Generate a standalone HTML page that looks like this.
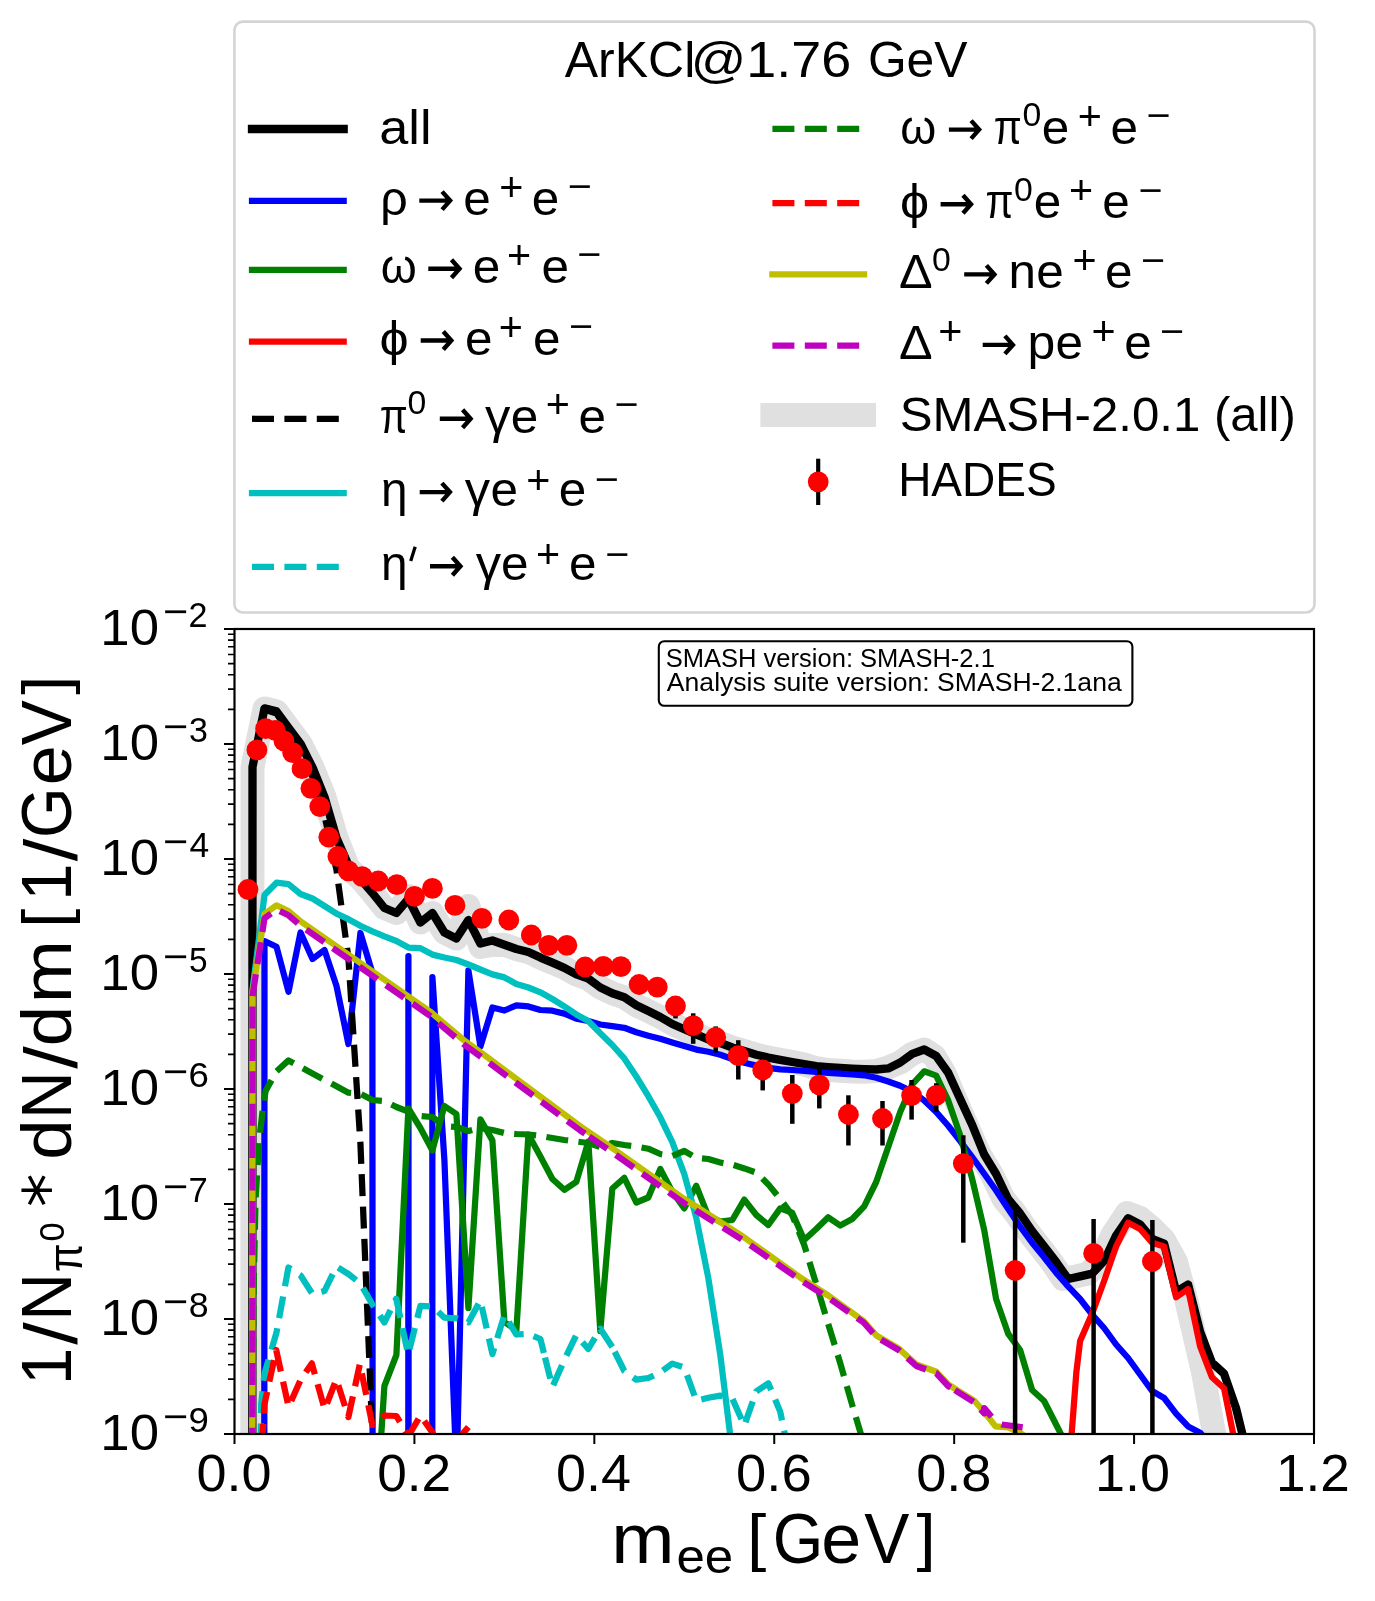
<!DOCTYPE html>
<html><head><meta charset="utf-8"><title>ArKCl@1.76 GeV dilepton spectrum</title>
<style>html,body{margin:0;padding:0;background:#fff}svg{display:block;will-change:transform}text{font-family:"Liberation Sans",sans-serif;font-kerning:none;font-variant-ligatures:none;white-space:pre}</style></head>
<body>
<svg width="1375" height="1601" viewBox="0 0 1375 1601">
<rect width="1375" height="1601" fill="#fff"/>
<defs><clipPath id="ax"><rect x="234.5" y="629.0" width="1079.5" height="805.0"/></clipPath></defs>
<g clip-path="url(#ax)">
<path d="M252.3,1470.0 L252.5,767.0 L264.5,708.4 L276.5,711.4 L288.5,727.7 L300.5,743.7 L312.5,767.4 L324.5,797.0 L336.5,838.0 L348.4,868.0 L360.4,879.0 L372.4,893.0 L384.4,908.0 L396.4,913.0 L408.4,896.0 L420.4,922.5 L432.4,913.0 L444.4,932.5 L456.4,938.5 L468.4,906.0 L480.4,947.0 L492.4,945.0 L504.4,944.7 L516.4,949.0 L528.4,952.0 L540.4,957.6 L552.4,962.7 L564.3,967.8 L576.3,974.4 L588.3,978.7 L600.3,987.5 L612.3,993.3 L624.3,997.3 L636.3,1005.3 L648.3,1011.0 L660.3,1017.0 L672.3,1024.0 L684.3,1029.3 L696.3,1034.4 L708.3,1039.5 L720.3,1043.0 L732.3,1047.5 L744.3,1051.0 L756.3,1054.7 L768.3,1057.6 L780.2,1059.8 L792.2,1062.0 L804.2,1064.6 L816.2,1068.2 L828.2,1070.0 L840.2,1070.8 L852.2,1071.5 L864.2,1071.7 L876.2,1071.0 L888.2,1067.4 L900.2,1062.5 L912.2,1053.8 L924.2,1049.5 L934.2,1056.0 L944.2,1072.7 L955.2,1098.9 L966.7,1125.0 L979.7,1154.5 L991.6,1174.0 L1003.6,1199.0 L1015.6,1213.5 L1027.6,1231.0 L1039.6,1246.4 L1051.6,1261.8 L1063.1,1279.0 L1076.1,1276.4 L1088.1,1273.6 L1100.1,1261.0 L1112.1,1235.5 L1127.0,1213.0 L1140.0,1218.0 L1152.0,1228.0 L1164.0,1240.0 L1176.0,1262.0 L1186.0,1299.0 L1203.0,1372.0 L1214.5,1436.0 L1218.0,1470.0" fill="none" stroke="#e0e0e0" stroke-width="24" stroke-linejoin="round" stroke-linecap="butt"/>
<path d="M252.3,1470.0 L252.5,767.0 L264.5,708.4 L276.5,711.4 L288.5,727.7 L300.5,743.7 L312.5,767.4 L324.5,797.0 L336.5,838.0 L348.4,865.0 L360.4,879.0 L372.4,893.0 L384.4,908.0 L396.4,913.0 L408.4,899.0 L420.4,922.5 L432.4,913.0 L444.4,932.5 L456.4,938.5 L468.4,920.0 L480.4,943.5 L492.4,940.5 L504.4,944.7 L516.4,949.0 L528.4,952.0 L540.4,957.6 L552.4,962.7 L564.3,967.8 L576.3,974.4 L588.3,978.7 L600.3,987.5 L612.3,993.3 L624.3,997.3 L636.3,1005.3 L648.3,1011.0 L660.3,1017.0 L672.3,1024.0 L684.3,1029.3 L696.3,1034.4 L708.3,1039.5 L720.3,1043.0 L732.3,1047.5 L744.3,1051.0 L756.3,1054.7 L768.3,1057.6 L780.2,1059.8 L792.2,1062.0 L804.2,1064.0 L816.2,1066.2 L828.2,1067.2 L840.2,1068.0 L852.2,1068.7 L864.2,1069.2 L876.2,1069.5 L888.2,1068.4 L900.2,1062.5 L912.2,1053.8 L924.2,1049.5 L936.2,1056.0 L948.2,1072.7 L960.2,1098.9 L972.2,1125.0 L984.2,1154.5 L996.1,1174.0 L1008.1,1199.0 L1020.1,1213.5 L1032.1,1231.0 L1044.1,1246.4 L1056.1,1261.8 L1068.1,1279.0 L1080.1,1276.4 L1092.1,1273.6 L1104.1,1261.0 L1116.1,1235.5 L1128.1,1218.2 L1140.1,1224.5 L1152.1,1239.0 L1164.1,1243.6 L1176.1,1291.8 L1188.1,1284.5 L1200.1,1331.8 L1212.0,1362.7 L1224.0,1373.6 L1236.0,1408.0 L1248.0,1457.0" fill="none" stroke="#000" stroke-width="8.33" stroke-linejoin="round" stroke-linecap="butt"/>
<path d="M264.3,1470.0 L264.5,941.0 L276.5,946.7 L288.5,991.8 L300.5,932.5 L312.5,959.0 L324.5,950.0 L336.5,986.0 L348.4,1044.0 L360.4,933.0 L372.4,973.0 L372.6,1470.0" fill="none" stroke="#0000ff" stroke-width="6.25" stroke-linejoin="round" stroke-linecap="butt"/>
<path d="M408.3,1470.0 L408.4,956.0 L408.6,1470.0" fill="none" stroke="#0000ff" stroke-width="6.25" stroke-linejoin="round" stroke-linecap="butt"/>
<path d="M432.3,1470.0 L432.4,977.0 L444.4,1160.0 L456.6,1474.0 L468.4,970.5 L480.4,1046.5 L492.4,1007.5 L504.4,1010.5 L516.4,1005.3 L528.4,1006.4 L540.4,1010.0 L552.4,1010.7 L564.3,1013.6 L576.3,1018.7 L588.3,1021.0 L600.3,1024.5 L612.3,1026.2 L624.3,1027.8 L636.3,1032.2 L648.3,1035.8 L660.3,1038.7 L672.3,1042.4 L684.3,1046.0 L696.3,1049.6 L708.3,1051.8 L720.3,1054.7 L732.3,1059.0 L744.3,1062.7 L756.3,1065.6 L768.3,1067.8 L780.2,1069.3 L792.2,1070.0 L804.2,1070.8 L816.2,1072.0 L828.2,1073.0 L840.2,1073.7 L852.2,1074.5 L864.2,1075.3 L876.2,1077.8 L888.2,1081.5 L900.2,1085.8 L912.2,1091.6 L924.2,1100.4 L936.2,1112.0 L948.2,1125.8 L960.2,1141.0 L972.2,1157.0 L984.2,1173.8 L996.1,1190.5 L1008.1,1208.8 L1020.1,1226.4 L1032.1,1242.7 L1044.1,1257.3 L1056.1,1272.7 L1068.1,1286.4 L1080.1,1299.0 L1092.1,1314.5 L1104.1,1328.0 L1116.1,1344.5 L1128.1,1358.0 L1140.1,1374.5 L1152.1,1391.0 L1164.1,1398.0 L1176.1,1413.6 L1188.1,1426.4 L1200.1,1432.7 L1212.0,1446.0" fill="none" stroke="#0000ff" stroke-width="6.25" stroke-linejoin="round" stroke-linecap="butt"/>
<path d="M372.4,1572.0 L384.4,1386.0 L396.4,1355.0 L408.4,1108.5 L420.4,1128.0 L432.4,1150.5 L444.4,1106.0 L456.4,1114.0 L468.4,1308.0 L480.4,1119.3 L492.4,1140.4 L504.4,1322.0 L516.4,1330.0 L528.4,1134.5 L540.4,1156.4 L552.4,1179.0 L564.3,1189.8 L576.3,1181.8 L588.3,1141.8 L600.3,1331.0 L612.3,1188.5 L624.3,1177.8 L636.3,1202.5 L648.3,1197.5 L660.3,1169.0 L672.3,1191.6 L684.3,1208.4 L696.3,1185.8 L708.3,1216.4 L720.3,1221.5 L732.3,1220.0 L744.3,1199.6 L756.3,1215.0 L768.3,1225.0 L780.2,1208.4 L792.2,1212.7 L804.2,1240.0 L816.2,1229.0 L828.2,1217.3 L840.2,1225.5 L852.2,1219.0 L864.2,1206.4 L876.2,1182.0 L888.2,1147.0 L900.2,1112.0 L912.2,1084.4 L924.2,1071.3 L936.2,1075.6 L948.2,1100.4 L960.2,1135.3 L972.2,1179.0 L984.2,1230.0 L996.1,1299.0 L1008.1,1333.6 L1020.1,1350.0 L1032.1,1390.0 L1044.1,1401.0 L1056.1,1424.5 L1068.1,1448.0" fill="none" stroke="#008000" stroke-width="6.25" stroke-linejoin="round" stroke-linecap="butt"/>
<path d="M1070.5,1462.0 L1071.8,1432.0 L1076.4,1371.8 L1080.1,1341.0 L1092.1,1313.6 L1104.1,1281.0 L1116.1,1246.4 L1128.1,1222.7 L1140.1,1229.0 L1152.1,1242.7 L1164.1,1246.4 L1176.1,1297.3 L1188.1,1289.0 L1200.1,1346.4 L1212.0,1377.3 L1224.0,1388.2 L1236.0,1448.0" fill="none" stroke="#ff0000" stroke-width="6.25" stroke-linejoin="round" stroke-linecap="butt"/>
<path d="M252.3,1470.0 L252.5,768.0 L264.5,709.5 L276.5,713.5 L288.5,731.5 L300.5,750.0 L312.5,777.0 L324.5,816.0 L336.5,870.0 L348.4,958.0 L360.4,1143.0 L372.4,1436.0 L384.4,1600.0" fill="none" stroke="#000" stroke-width="6.25" stroke-linejoin="round" stroke-linecap="butt" stroke-dasharray="22 10.4" stroke-dashoffset="14.52"/>
<path d="M252.3,1470.0 L252.5,989.6 L264.5,895.0 L276.5,882.7 L288.5,884.2 L300.5,894.0 L312.5,898.5 L324.5,906.0 L336.5,913.7 L348.4,919.2 L360.4,925.8 L372.4,931.3 L384.4,936.4 L396.4,941.0 L408.4,947.6 L420.4,948.2 L432.4,954.6 L444.4,957.5 L456.4,960.0 L468.4,964.5 L480.4,969.5 L492.4,974.4 L504.4,977.4 L516.4,984.0 L528.4,987.5 L540.4,992.3 L552.4,999.0 L564.3,1006.4 L576.3,1014.4 L588.3,1021.0 L600.3,1033.3 L612.3,1045.0 L624.3,1058.4 L636.3,1076.5 L648.3,1096.2 L660.3,1117.3 L672.3,1142.2 L684.3,1174.2 L696.3,1218.0 L708.3,1278.0 L720.3,1355.0 L732.3,1452.0" fill="none" stroke="#00bfbf" stroke-width="6.25" stroke-linejoin="round" stroke-linecap="butt"/>
<path d="M260.6,1450.0 L261.2,1404.0 L264.5,1373.5 L276.5,1332.5 L288.4,1267.5 L300.5,1275.3 L312.5,1294.0 L324.5,1291.0 L336.4,1266.6 L348.4,1274.0 L360.4,1283.5 L372.4,1304.5 L384.4,1322.4 L396.2,1298.7 L408.2,1354.5 L420.4,1305.8 L432.4,1306.4 L444.4,1317.7 L456.4,1318.3 L468.4,1322.4 L480.4,1300.5 L492.4,1354.0 L504.4,1315.0 L516.4,1334.5 L528.4,1333.8 L540.4,1339.0 L543.9,1353.0" fill="none" stroke="#00bfbf" stroke-width="6.25" stroke-linejoin="round" stroke-linecap="butt" stroke-dasharray="22 10.4" stroke-dashoffset="27.94"/>
<path d="M543.9,1353.0 L552.4,1387.0 L564.3,1360.0 L576.3,1335.0 L588.3,1349.0 L600.3,1328.7 L612.3,1347.0" fill="none" stroke="#00bfbf" stroke-width="6.25" stroke-linejoin="round" stroke-linecap="butt" stroke-dasharray="22 10.4" stroke-dashoffset="27.86"/>
<path d="M612.3,1347.0 L624.3,1371.0 L636.3,1379.6 L648.3,1378.0 L660.3,1372.4 L672.3,1363.6 L684.3,1367.5 L696.3,1400.7 L708.3,1397.8 L720.3,1395.6 L732.3,1398.5 L744.3,1425.5 L756.3,1391.3 L768.3,1383.3 L780.2,1411.6 L792.2,1470.0" fill="none" stroke="#00bfbf" stroke-width="6.25" stroke-linejoin="round" stroke-linecap="butt" stroke-dasharray="22 10.4" stroke-dashoffset="27.09"/>
<path d="M252.6,1470.0 L253.4,1300.0 L255.5,1200.0 L259.0,1142.0 L262.7,1110.0 L265.6,1091.0 L276.5,1071.3 L288.5,1060.4 L300.5,1067.0 L312.5,1073.4 L324.5,1079.9 L336.5,1086.3 L348.4,1092.7 L360.4,1093.8 L372.4,1100.0 L384.4,1101.0 L396.4,1107.0 L408.4,1111.6 L420.4,1116.0 L432.4,1117.0 L444.4,1126.0 L456.4,1127.0 L468.4,1131.0 L480.4,1128.0 L492.4,1130.0 L504.4,1133.0 L516.4,1134.0 L528.4,1134.5 L540.4,1136.0 L552.4,1138.0 L564.3,1140.0 L576.3,1141.5 L588.3,1143.0 L600.3,1147.0 L612.3,1143.0 L624.3,1145.0 L636.3,1146.5 L648.3,1148.7 L660.3,1154.0 L672.3,1156.0 L684.3,1151.0 L696.3,1158.0 L708.3,1159.0 L720.3,1162.5 L732.3,1164.7 L744.3,1168.4 L756.3,1172.7 L768.3,1184.4 L780.2,1199.0 L792.2,1215.0 L804.2,1245.0 L816.2,1284.0 L828.2,1324.0 L840.2,1363.0 L852.2,1405.0 L864.2,1445.0" fill="none" stroke="#008000" stroke-width="6.25" stroke-linejoin="round" stroke-linecap="butt" stroke-dasharray="22 10.4" stroke-dashoffset="18.96"/>
<path d="M262.3,1440.0 L264.5,1404.0 L276.2,1350.0 L288.6,1407.0 L300.5,1380.0 L311.8,1363.4 L324.7,1409.5 L336.4,1379.3 L348.4,1417.0 L359.9,1364.0 L372.4,1425.0 L384.4,1415.5 L396.4,1416.0 L408.4,1436.0" fill="none" stroke="#ff0000" stroke-width="6.25" stroke-linejoin="round" stroke-linecap="butt" stroke-dasharray="22 10.4" stroke-dashoffset="5.90"/>
<path d="M408.4,1436.0 L420.4,1415.6 L432.4,1432.5 L444.4,1462.0" fill="none" stroke="#ff0000" stroke-width="6.25" stroke-linejoin="round" stroke-linecap="butt" stroke-dasharray="22 10.4" stroke-dashoffset="2.03"/>
<path d="M456.4,1441.0 L468.4,1427.0" fill="none" stroke="#ff0000" stroke-width="6.25" stroke-linejoin="round" stroke-linecap="butt"/>
<path d="M252.3,1470.0 L252.5,992.5 L264.5,914.0 L276.5,905.3 L288.5,911.0 L300.5,921.3 L430.0,1011.5 L463.6,1040.0 L480.0,1051.8 L580.0,1126.0 L610.0,1146.5 L684.3,1199.0 L744.3,1237.5 L800.0,1277.3 L828.2,1295.5 L863.6,1321.0 L876.4,1335.5 L898.2,1348.2 L916.4,1364.5 L936.4,1371.8 L948.2,1384.5 L960.0,1391.8 L974.5,1401.0 L984.2,1411.8 L995.5,1426.4 L1008.2,1427.3 L1020.0,1432.7 L1030.0,1440.0" fill="none" stroke="#bfbf00" stroke-width="6.25" stroke-linejoin="round" stroke-linecap="butt"/>
<path d="M252.3,1470.0 L252.5,996.0 L264.5,918.3 L276.5,909.6 L288.5,915.3 L300.5,925.6 L430.0,1015.8 L463.6,1044.3 L480.0,1056.1 L580.0,1130.3 L585.0,1133.7" fill="none" stroke="#bf00bf" stroke-width="6.25" stroke-linejoin="round" stroke-linecap="butt" stroke-dasharray="22 10.4" stroke-dashoffset="12.09"/>
<path d="M585.0,1133.7 L610.0,1150.8 L684.3,1203.3 L744.3,1241.0 L800.0,1279.8 L828.2,1297.6 L863.6,1322.5 L876.4,1337.0 L898.2,1349.7 L916.4,1366.0 L936.4,1373.3 L948.2,1386.0 L950.7,1387.5" fill="none" stroke="#bf00bf" stroke-width="6.25" stroke-linejoin="round" stroke-linecap="butt" stroke-dasharray="22 10.4" stroke-dashoffset="27.40"/>
<path d="M950.7,1387.5 L960.0,1393.3 L974.5,1402.5 L984.2,1413.3 L984.2,1408.0 L995.5,1421.5 L998.0,1422.7" fill="none" stroke="#bf00bf" stroke-width="6.25" stroke-linejoin="round" stroke-linecap="butt" stroke-dasharray="22 10.4" stroke-dashoffset="27.40"/>
<path d="M998.0,1422.7 L1001.8,1424.5 L1022.7,1427.3" fill="none" stroke="#bf00bf" stroke-width="6.25" stroke-linejoin="round" stroke-linecap="butt" stroke-dasharray="22 10.4" stroke-dashoffset="28.20"/>
<path d="M675.5,998.0V1018.4" stroke="#000" stroke-width="4.5" fill="none"/>
<path d="M693.2,1013.3V1043.8" stroke="#000" stroke-width="4.5" fill="none"/>
<path d="M715.7,1026.4V1052.5" stroke="#000" stroke-width="4.5" fill="none"/>
<path d="M738.3,1040.2V1079.5" stroke="#000" stroke-width="4.5" fill="none"/>
<path d="M762.7,1056.0V1090.4" stroke="#000" stroke-width="4.5" fill="none"/>
<path d="M792.3,1075.0V1123.8" stroke="#000" stroke-width="4.5" fill="none"/>
<path d="M819.3,1068.4V1108.4" stroke="#000" stroke-width="4.5" fill="none"/>
<path d="M848.4,1095.3V1145.5" stroke="#000" stroke-width="4.5" fill="none"/>
<path d="M882.5,1101.0V1145.5" stroke="#000" stroke-width="4.5" fill="none"/>
<path d="M911.6,1080.0V1119.6" stroke="#000" stroke-width="4.5" fill="none"/>
<path d="M936.3,1083.2V1111.7" stroke="#000" stroke-width="4.5" fill="none"/>
<path d="M963.3,1135.3V1242.7" stroke="#000" stroke-width="4.5" fill="none"/>
<path d="M1015.1,1211.0V1445.0" stroke="#000" stroke-width="4.5" fill="none"/>
<path d="M1093.6,1219.0V1445.0" stroke="#000" stroke-width="4.5" fill="none"/>
<path d="M1152.4,1220.0V1445.0" stroke="#000" stroke-width="4.5" fill="none"/>
<circle cx="248.0" cy="889.5" r="10.4" fill="#ff0000"/>
<circle cx="256.9" cy="749.9" r="10.4" fill="#ff0000"/>
<circle cx="265.6" cy="728.6" r="10.4" fill="#ff0000"/>
<circle cx="275.2" cy="730.4" r="10.4" fill="#ff0000"/>
<circle cx="283.9" cy="740.8" r="10.4" fill="#ff0000"/>
<circle cx="292.6" cy="752.6" r="10.4" fill="#ff0000"/>
<circle cx="302.0" cy="768.7" r="10.4" fill="#ff0000"/>
<circle cx="310.9" cy="788.3" r="10.4" fill="#ff0000"/>
<circle cx="319.8" cy="806.6" r="10.4" fill="#ff0000"/>
<circle cx="328.8" cy="837.2" r="10.4" fill="#ff0000"/>
<circle cx="337.9" cy="856.5" r="10.4" fill="#ff0000"/>
<circle cx="348.4" cy="870.9" r="10.4" fill="#ff0000"/>
<circle cx="362.2" cy="876.7" r="10.4" fill="#ff0000"/>
<circle cx="378.2" cy="881.0" r="10.4" fill="#ff0000"/>
<circle cx="396.8" cy="884.7" r="10.4" fill="#ff0000"/>
<circle cx="414.5" cy="896.4" r="10.4" fill="#ff0000"/>
<circle cx="432.4" cy="888.4" r="10.4" fill="#ff0000"/>
<circle cx="455.0" cy="905.4" r="10.4" fill="#ff0000"/>
<circle cx="481.9" cy="918.3" r="10.4" fill="#ff0000"/>
<circle cx="508.8" cy="920.0" r="10.4" fill="#ff0000"/>
<circle cx="531.3" cy="935.0" r="10.4" fill="#ff0000"/>
<circle cx="548.7" cy="945.3" r="10.4" fill="#ff0000"/>
<circle cx="566.9" cy="945.3" r="10.4" fill="#ff0000"/>
<circle cx="585.1" cy="967.0" r="10.4" fill="#ff0000"/>
<circle cx="603.3" cy="966.4" r="10.4" fill="#ff0000"/>
<circle cx="620.9" cy="966.7" r="10.4" fill="#ff0000"/>
<circle cx="639.1" cy="984.5" r="10.4" fill="#ff0000"/>
<circle cx="657.3" cy="987.1" r="10.4" fill="#ff0000"/>
<circle cx="675.5" cy="1006.0" r="10.4" fill="#ff0000"/>
<circle cx="693.2" cy="1025.6" r="10.4" fill="#ff0000"/>
<circle cx="715.7" cy="1037.3" r="10.4" fill="#ff0000"/>
<circle cx="738.3" cy="1055.7" r="10.4" fill="#ff0000"/>
<circle cx="762.7" cy="1070.0" r="10.4" fill="#ff0000"/>
<circle cx="792.3" cy="1093.6" r="10.4" fill="#ff0000"/>
<circle cx="819.3" cy="1084.8" r="10.4" fill="#ff0000"/>
<circle cx="848.4" cy="1114.5" r="10.4" fill="#ff0000"/>
<circle cx="882.5" cy="1118.5" r="10.4" fill="#ff0000"/>
<circle cx="911.6" cy="1095.6" r="10.4" fill="#ff0000"/>
<circle cx="936.3" cy="1095.3" r="10.4" fill="#ff0000"/>
<circle cx="963.3" cy="1163.6" r="10.4" fill="#ff0000"/>
<circle cx="1015.1" cy="1270.5" r="10.4" fill="#ff0000"/>
<circle cx="1093.6" cy="1253.3" r="10.4" fill="#ff0000"/>
<circle cx="1152.4" cy="1261.5" r="10.4" fill="#ff0000"/>
</g>
<path d="M234.50,1434.0v10M414.42,1434.0v10M594.33,1434.0v10M774.25,1434.0v10M954.17,1434.0v10M1134.08,1434.0v10M1314.00,1434.0v10M234.5,629.00h-10.5M234.5,744.00h-10.5M234.5,859.00h-10.5M234.5,974.00h-10.5M234.5,1089.00h-10.5M234.5,1204.00h-10.5M234.5,1319.00h-10.5M234.5,1434.00h-10.5" stroke="#000" stroke-width="2" fill="none"/>
<path d="M234.5,709.38h-6.5M234.5,689.13h-6.5M234.5,674.76h-6.5M234.5,663.62h-6.5M234.5,654.51h-6.5M234.5,646.81h-6.5M234.5,640.14h-6.5M234.5,634.26h-6.5M234.5,824.38h-6.5M234.5,804.13h-6.5M234.5,789.76h-6.5M234.5,778.62h-6.5M234.5,769.51h-6.5M234.5,761.81h-6.5M234.5,755.14h-6.5M234.5,749.26h-6.5M234.5,939.38h-6.5M234.5,919.13h-6.5M234.5,904.76h-6.5M234.5,893.62h-6.5M234.5,884.51h-6.5M234.5,876.81h-6.5M234.5,870.14h-6.5M234.5,864.26h-6.5M234.5,1054.38h-6.5M234.5,1034.13h-6.5M234.5,1019.76h-6.5M234.5,1008.62h-6.5M234.5,999.51h-6.5M234.5,991.81h-6.5M234.5,985.14h-6.5M234.5,979.26h-6.5M234.5,1169.38h-6.5M234.5,1149.13h-6.5M234.5,1134.76h-6.5M234.5,1123.62h-6.5M234.5,1114.51h-6.5M234.5,1106.81h-6.5M234.5,1100.14h-6.5M234.5,1094.26h-6.5M234.5,1284.38h-6.5M234.5,1264.13h-6.5M234.5,1249.76h-6.5M234.5,1238.62h-6.5M234.5,1229.51h-6.5M234.5,1221.81h-6.5M234.5,1215.14h-6.5M234.5,1209.26h-6.5M234.5,1399.38h-6.5M234.5,1379.13h-6.5M234.5,1364.76h-6.5M234.5,1353.62h-6.5M234.5,1344.51h-6.5M234.5,1336.81h-6.5M234.5,1330.14h-6.5M234.5,1324.26h-6.5" stroke="#000" stroke-width="1.6" fill="none"/>
<rect x="234.5" y="629.0" width="1079.5" height="805.0" fill="none" stroke="#000" stroke-width="2.2"/>
<text transform="translate(196.46,1491.30) scale(1.0584,1)" font-size="51.03" fill="#000">0.0</text>
<text transform="translate(377.23,1491.30) scale(1.0428,1)" font-size="51.03" fill="#000">0.2</text>
<text transform="translate(556.05,1491.30) scale(1.0579,1)" font-size="51.03" fill="#000">0.4</text>
<text transform="translate(736.11,1491.30) scale(1.0648,1)" font-size="51.03" fill="#000">0.6</text>
<text transform="translate(916.17,1491.30) scale(1.0605,1)" font-size="51.03" fill="#000">0.8</text>
<text transform="translate(1095.12,1491.30) scale(1.0563,1)" font-size="51.03" fill="#000">1.0</text>
<text transform="translate(1275.91,1491.30) scale(1.0403,1)" font-size="51.03" fill="#000">1.2</text>
<text transform="translate(100.28,645.30) scale(1.0471,1)" font-size="50.40" fill="#000">10</text>
<text transform="translate(163.07,624.98) scale(1.2884,1.1644)" font-size="33.60">−</text>
<text transform="translate(188.58,627.20) scale(0.9677,1)" font-size="35.28" fill="#000">2</text>
<text transform="translate(100.28,760.30) scale(1.0471,1)" font-size="50.40" fill="#000">10</text>
<text transform="translate(163.07,739.98) scale(1.2884,1.1644)" font-size="33.60">−</text>
<text transform="translate(189.00,742.20) scale(0.9642,1)" font-size="35.28" fill="#000">3</text>
<text transform="translate(100.28,875.30) scale(1.0471,1)" font-size="50.40" fill="#000">10</text>
<text transform="translate(163.07,854.98) scale(1.2884,1.1644)" font-size="33.60">−</text>
<text transform="translate(189.49,857.20) scale(1.0041,1)" font-size="35.28" fill="#000">4</text>
<text transform="translate(100.28,990.30) scale(1.0471,1)" font-size="50.40" fill="#000">10</text>
<text transform="translate(163.07,969.98) scale(1.2884,1.1644)" font-size="33.60">−</text>
<text transform="translate(188.96,972.20) scale(0.9475,1)" font-size="35.28" fill="#000">5</text>
<text transform="translate(100.28,1105.30) scale(1.0471,1)" font-size="50.40" fill="#000">10</text>
<text transform="translate(163.07,1084.98) scale(1.2884,1.1644)" font-size="33.60">−</text>
<text transform="translate(188.44,1087.20) scale(1.0391,1)" font-size="35.28" fill="#000">6</text>
<text transform="translate(100.28,1220.30) scale(1.0471,1)" font-size="50.40" fill="#000">10</text>
<text transform="translate(163.07,1199.98) scale(1.2884,1.1644)" font-size="33.60">−</text>
<text transform="translate(188.52,1202.20) scale(0.9820,1)" font-size="35.28" fill="#000">7</text>
<text transform="translate(100.28,1335.30) scale(1.0471,1)" font-size="50.40" fill="#000">10</text>
<text transform="translate(163.07,1314.98) scale(1.2884,1.1644)" font-size="33.60">−</text>
<text transform="translate(188.74,1317.20) scale(1.0148,1)" font-size="35.28" fill="#000">8</text>
<text transform="translate(100.28,1450.30) scale(1.0471,1)" font-size="50.40" fill="#000">10</text>
<text transform="translate(163.07,1429.98) scale(1.2884,1.1644)" font-size="33.60">−</text>
<text transform="translate(188.59,1432.20) scale(1.0369,1)" font-size="35.28" fill="#000">9</text>
<text transform="translate(611.36,1563.30) scale(1.0851,1)" font-size="70.00" fill="#000">m</text>
<text transform="translate(676.43,1573.30) scale(1.0422,1)" font-size="49.00" fill="#000">ee</text>
<text transform="translate(746.95,1558.86) scale(1.0418,0.9565)" font-size="66.67">[</text>
<text transform="translate(772.73,1563.30) scale(0.9289,1)" font-size="70.00" fill="#000">G</text>
<text transform="translate(821.34,1563.30) scale(1.0287,1)" font-size="70.00" fill="#000">e</text>
<text transform="translate(864.30,1563.30) scale(0.9665,1)" font-size="70.00" fill="#000">V</text>
<text transform="translate(916.46,1558.86) scale(1.0418,0.9565)" font-size="66.67">]</text>
<text transform="rotate(-90,71.2,1380.0) translate(66.09,1380.00) scale(0.9589,1)" font-size="70.00" fill="#000">1</text>
<text transform="rotate(-90,71.2,1380.0) translate(106.50,1385.46) scale(1.2127,1.1190)" font-size="66.67">/</text>
<text transform="rotate(-90,71.2,1380.0) translate(130.40,1380.00) scale(0.9407,1)" font-size="70.00" fill="#000">N</text>
<text transform="rotate(-90,71.2,1380.0) translate(179.11,1391.00) scale(0.8437,1)" font-size="49.00" fill="#000">π</text>
<text transform="rotate(-90,71.2,1380.0) translate(209.65,1373.10) scale(1.0039,1)" font-size="34.30" fill="#000">0</text>
<path d="M21.45,1190.3H51.95M29.3,1176.3L44.1,1204.3M44.1,1176.3L29.3,1204.3" stroke="#000" stroke-width="3.4" fill="none"/>
<text transform="rotate(-90,71.2,1380.0) translate(291.46,1380.00) scale(1.0351,1)" font-size="70.00" fill="#000">d</text>
<text transform="rotate(-90,71.2,1380.0) translate(332.30,1380.00) scale(0.9407,1)" font-size="70.00" fill="#000">N</text>
<text transform="rotate(-90,71.2,1380.0) translate(404.96,1380.00) scale(1.0351,1)" font-size="70.00" fill="#000">d</text>
<text transform="rotate(-90,71.2,1380.0) translate(447.96,1380.00) scale(1.0851,1)" font-size="70.00" fill="#000">m</text>
<text transform="rotate(-90,71.2,1380.0) translate(382.40,1385.46) scale(1.2127,1.1190)" font-size="66.67">/</text>
<text transform="rotate(-90,71.2,1380.0) translate(523.15,1375.56) scale(1.0418,0.9565)" font-size="66.67">[</text>
<text transform="rotate(-90,71.2,1380.0) translate(550.39,1380.00) scale(0.9589,1)" font-size="70.00" fill="#000">1</text>
<text transform="rotate(-90,71.2,1380.0) translate(613.23,1380.00) scale(0.9289,1)" font-size="70.00" fill="#000">G</text>
<text transform="rotate(-90,71.2,1380.0) translate(665.94,1380.00) scale(1.0287,1)" font-size="70.00" fill="#000">e</text>
<text transform="rotate(-90,71.2,1380.0) translate(705.90,1380.00) scale(0.9665,1)" font-size="70.00" fill="#000">V</text>
<text transform="rotate(-90,71.2,1380.0) translate(590.00,1385.46) scale(1.2127,1.1190)" font-size="66.67">/</text>
<text transform="rotate(-90,71.2,1380.0) translate(756.56,1375.56) scale(1.0418,0.9565)" font-size="66.67">]</text>
<rect x="658.8" y="641.2" width="473.6" height="64.6" rx="5.5" fill="#fff" stroke="#000" stroke-width="2.1"/>
<text transform="translate(665.74,666.60) scale(1.0094,1)" font-size="25.31" fill="#000">SMASH version: SMASH-2.1</text>
<text transform="translate(666.85,691.40) scale(1.0507,1)" font-size="25.31" fill="#000">Analysis suite version: SMASH-2.1ana</text>
<rect x="234.4" y="21.6" width="1080.1" height="590.9" rx="8.5" fill="#fff" stroke="#d4d4d4" stroke-width="2.6"/>
<text transform="translate(564.70,76.50) scale(0.9927,1)" font-size="50.40" fill="#000">ArKCl</text>
<text transform="translate(690.69,76.50) scale(1.0876,1)" font-size="50.40" fill="#000">@</text>
<text transform="translate(746.30,76.50) scale(1.0691,1)" font-size="50.40" fill="#000">1.76</text>
<text transform="translate(867.90,76.50) scale(0.9878,1)" font-size="50.40" fill="#000">GeV</text>
<path d="M247.84,129.0h100.00" stroke="#000" stroke-width="8.33" fill="none"/>
<path d="M248.88,200.8h97.92" stroke="#0000ff" stroke-width="6.25" fill="none"/>
<path d="M248.88,269.8h97.92" stroke="#008000" stroke-width="6.25" fill="none"/>
<path d="M248.88,341.6h97.92" stroke="#ff0000" stroke-width="6.25" fill="none"/>
<path d="M252.0,418.8h91.67" stroke="#000" stroke-width="6.25" stroke-dasharray="22 10.4" fill="none"/>
<path d="M248.88,493.0h97.92" stroke="#00bfbf" stroke-width="6.25" fill="none"/>
<path d="M252.0,566.9h91.67" stroke="#00bfbf" stroke-width="6.25" stroke-dasharray="22 10.4" fill="none"/>
<path d="M772.4,128.8h91.67" stroke="#008000" stroke-width="6.25" stroke-dasharray="22 10.4" fill="none"/>
<path d="M772.4,203.0h91.67" stroke="#ff0000" stroke-width="6.25" stroke-dasharray="22 10.4" fill="none"/>
<path d="M769.27,274.3h97.92" stroke="#bfbf00" stroke-width="6.25" fill="none"/>
<path d="M772.4,345.6h91.67" stroke="#bf00bf" stroke-width="6.25" stroke-dasharray="22 10.4" fill="none"/>
<path d="M760.40,415.0h115.67" stroke="#e0e0e0" stroke-width="24.0" fill="none"/>
<path d="M818.2,458.7V505" stroke="#000" stroke-width="4.17" fill="none"/><circle cx="818.2" cy="481.8" r="10.4" fill="#ff0000"/>
<text transform="translate(379.28,144.30) scale(1.0844,1)" font-size="48.12" fill="#000">all</text>
<text transform="translate(380.29,214.60) scale(1.0035,1)" font-size="48.12" fill="#000">ρ</text>
<path d="M419.3,200.6H449.6M442.1,191.6L450.1,200.6L442.1,209.6" fill="none" stroke="#000" stroke-width="4.4" stroke-linejoin="miter"/>
<text transform="translate(463.20,214.60) scale(1.0287,1)" font-size="48.12" fill="#000">e</text>
<text transform="translate(499.28,200.61) scale(1.2884,1.2814)" font-size="32.08">+</text>
<text transform="translate(531.80,214.60) scale(1.0287,1)" font-size="48.12" fill="#000">e</text>
<text transform="translate(567.86,199.36) scale(1.2884,1.1644)" font-size="32.08">−</text>
<text transform="translate(380.63,282.70) scale(0.9577,1)" font-size="48.12" fill="#000">ω</text>
<path d="M428.3,268.7H459.0M451.5,259.7L459.5,268.7L451.5,277.7" fill="none" stroke="#000" stroke-width="4.4" stroke-linejoin="miter"/>
<text transform="translate(472.70,282.70) scale(1.0287,1)" font-size="48.12" fill="#000">e</text>
<text transform="translate(506.98,268.71) scale(1.2884,1.2814)" font-size="32.08">+</text>
<text transform="translate(541.40,282.70) scale(1.0287,1)" font-size="48.12" fill="#000">e</text>
<text transform="translate(577.16,267.46) scale(1.2884,1.1644)" font-size="32.08">−</text>
<text transform="translate(379.57,354.50) scale(1.0817,1)" font-size="48.12" fill="#000">ϕ</text>
<path d="M420.7,340.5H450.8M443.3,331.5L451.3,340.5L443.3,349.5" fill="none" stroke="#000" stroke-width="4.4" stroke-linejoin="miter"/>
<text transform="translate(465.00,354.50) scale(1.0287,1)" font-size="48.12" fill="#000">e</text>
<text transform="translate(498.68,340.51) scale(1.2884,1.2814)" font-size="32.08">+</text>
<text transform="translate(533.10,354.50) scale(1.0287,1)" font-size="48.12" fill="#000">e</text>
<text transform="translate(568.96,339.26) scale(1.2884,1.1644)" font-size="32.08">−</text>
<text transform="translate(379.73,432.80) scale(0.8437,1)" font-size="48.12" fill="#000">π</text>
<text transform="translate(407.48,414.30) scale(1.0039,1)" font-size="33.69" fill="#000">0</text>
<path d="M439.8,418.8H470.1M462.6,409.8L470.6,418.8L462.6,427.8" fill="none" stroke="#000" stroke-width="4.4" stroke-linejoin="miter"/>
<text transform="translate(485.03,432.80) scale(1.0552,1)" font-size="48.12" fill="#000">γ</text>
<text transform="translate(510.80,432.80) scale(1.0287,1)" font-size="48.12" fill="#000">e</text>
<text transform="translate(545.78,417.91) scale(1.2884,1.2814)" font-size="32.08">+</text>
<text transform="translate(578.50,432.80) scale(1.0287,1)" font-size="48.12" fill="#000">e</text>
<text transform="translate(614.56,416.66) scale(1.2884,1.1644)" font-size="32.08">−</text>
<text transform="translate(381.03,506.10) scale(0.9926,1)" font-size="48.12" fill="#000">η</text>
<path d="M419.7,492.1H449.4M441.9,483.1L449.9,492.1L441.9,501.1" fill="none" stroke="#000" stroke-width="4.4" stroke-linejoin="miter"/>
<text transform="translate(464.73,506.10) scale(1.0552,1)" font-size="48.12" fill="#000">γ</text>
<text transform="translate(490.50,506.10) scale(1.0287,1)" font-size="48.12" fill="#000">e</text>
<text transform="translate(526.18,493.71) scale(1.2884,1.2814)" font-size="32.08">+</text>
<text transform="translate(558.80,506.10) scale(1.0287,1)" font-size="48.12" fill="#000">e</text>
<text transform="translate(594.86,492.46) scale(1.2884,1.1644)" font-size="32.08">−</text>
<text transform="translate(381.03,580.30) scale(0.9926,1)" font-size="48.12" fill="#000">η</text>
<path d="M415.2,546.7L410.7,561.1" stroke="#000" stroke-width="3.3" fill="none"/>
<path d="M430.0,566.3H459.9M452.4,557.3L460.4,566.3L452.4,575.3" fill="none" stroke="#000" stroke-width="4.4" stroke-linejoin="miter"/>
<text transform="translate(475.63,580.30) scale(1.0552,1)" font-size="48.12" fill="#000">γ</text>
<text transform="translate(501.00,580.30) scale(1.0287,1)" font-size="48.12" fill="#000">e</text>
<text transform="translate(535.98,567.91) scale(1.2884,1.2814)" font-size="32.08">+</text>
<text transform="translate(569.10,580.30) scale(1.0287,1)" font-size="48.12" fill="#000">e</text>
<text transform="translate(605.36,566.66) scale(1.2884,1.1644)" font-size="32.08">−</text>
<text transform="translate(900.13,143.60) scale(0.9577,1)" font-size="48.12" fill="#000">ω</text>
<path d="M948.9,129.6H978.6M971.1,120.6L979.1,129.6L971.1,138.6" fill="none" stroke="#000" stroke-width="4.4" stroke-linejoin="miter"/>
<text transform="translate(993.63,143.60) scale(0.8437,1)" font-size="48.12" fill="#000">π</text>
<text transform="translate(1022.38,126.00) scale(1.0039,1)" font-size="33.69" fill="#000">0</text>
<text transform="translate(1041.70,143.60) scale(1.0287,1)" font-size="48.12" fill="#000">e</text>
<text transform="translate(1077.78,129.61) scale(1.2884,1.2814)" font-size="32.08">+</text>
<text transform="translate(1110.50,143.60) scale(1.0287,1)" font-size="48.12" fill="#000">e</text>
<text transform="translate(1146.56,128.36) scale(1.2884,1.1644)" font-size="32.08">−</text>
<text transform="translate(899.97,218.20) scale(1.0817,1)" font-size="48.12" fill="#000">ϕ</text>
<path d="M940.6,204.2H970.5M963.0,195.2L971.0,204.2L963.0,213.2" fill="none" stroke="#000" stroke-width="4.4" stroke-linejoin="miter"/>
<text transform="translate(985.53,218.20) scale(0.8437,1)" font-size="48.12" fill="#000">π</text>
<text transform="translate(1013.88,200.60) scale(1.0039,1)" font-size="33.69" fill="#000">0</text>
<text transform="translate(1033.70,218.20) scale(1.0287,1)" font-size="48.12" fill="#000">e</text>
<text transform="translate(1069.08,204.21) scale(1.2884,1.2814)" font-size="32.08">+</text>
<text transform="translate(1102.20,218.20) scale(1.0287,1)" font-size="48.12" fill="#000">e</text>
<text transform="translate(1138.46,202.96) scale(1.2884,1.1644)" font-size="32.08">−</text>
<text transform="translate(899.10,288.40) scale(1.0465,1)" font-size="48.12" fill="#000">Δ</text>
<text transform="translate(932.08,270.80) scale(1.0039,1)" font-size="33.69" fill="#000">0</text>
<path d="M964.2,274.4H993.9M986.4,265.4L994.4,274.4L986.4,283.4" fill="none" stroke="#000" stroke-width="4.4" stroke-linejoin="miter"/>
<text transform="translate(1008.52,288.40) scale(1.0268,1)" font-size="48.12" fill="#000">n</text>
<text transform="translate(1036.30,288.40) scale(1.0287,1)" font-size="48.12" fill="#000">e</text>
<text transform="translate(1072.38,274.41) scale(1.2884,1.2814)" font-size="32.08">+</text>
<text transform="translate(1105.00,288.40) scale(1.0287,1)" font-size="48.12" fill="#000">e</text>
<text transform="translate(1141.06,273.16) scale(1.2884,1.1644)" font-size="32.08">−</text>
<text transform="translate(899.10,358.90) scale(1.0465,1)" font-size="48.12" fill="#000">Δ</text>
<text transform="translate(938.18,344.91) scale(1.2884,1.2814)" font-size="32.08">+</text>
<path d="M982.7,344.9H1012.4M1004.9,335.9L1012.9,344.9L1004.9,353.9" fill="none" stroke="#000" stroke-width="4.4" stroke-linejoin="miter"/>
<text transform="translate(1027.49,358.90) scale(1.0361,1)" font-size="48.12" fill="#000">p</text>
<text transform="translate(1055.50,358.90) scale(1.0287,1)" font-size="48.12" fill="#000">e</text>
<text transform="translate(1091.38,344.91) scale(1.2884,1.2814)" font-size="32.08">+</text>
<text transform="translate(1124.20,358.90) scale(1.0287,1)" font-size="48.12" fill="#000">e</text>
<text transform="translate(1160.06,343.66) scale(1.2884,1.1644)" font-size="32.08">−</text>
<text transform="translate(899.67,431.20) scale(1.0220,1)" font-size="48.12" fill="#000">SMASH-2.0.1 (all)</text>
<text transform="translate(898.13,495.70) scale(0.9559,1)" font-size="48.12" fill="#000">HADES</text>
</svg>
</body></html>
